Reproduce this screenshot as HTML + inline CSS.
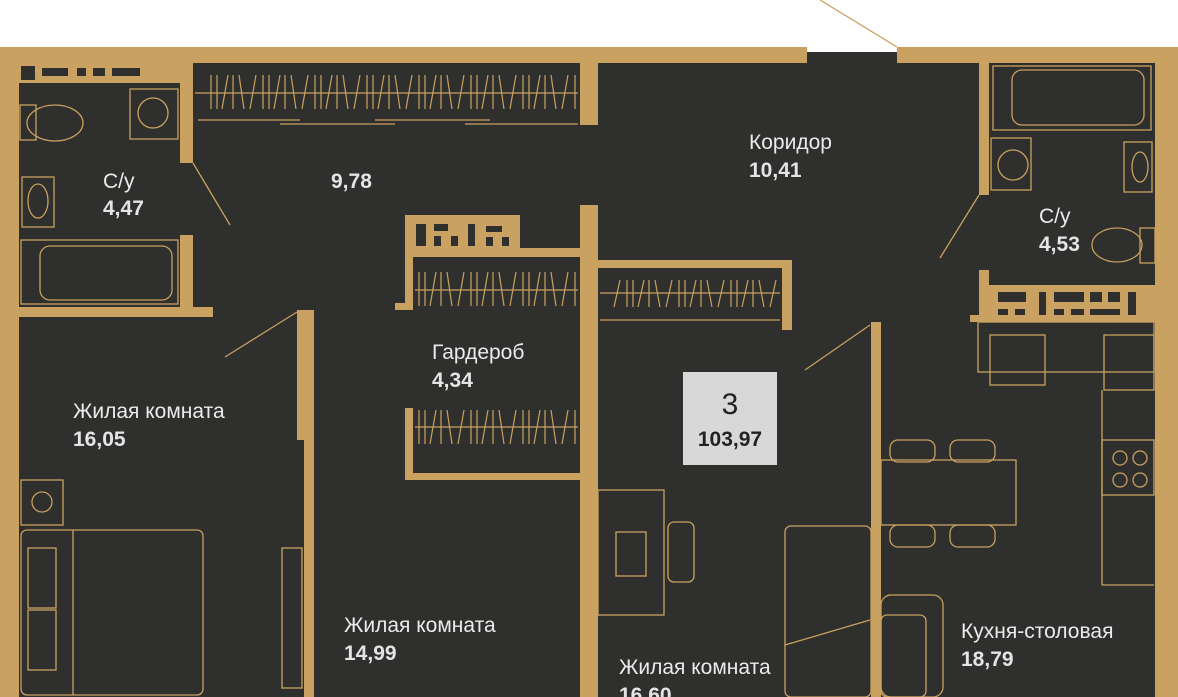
<!DOCTYPE html>
<html><head><meta charset="utf-8"><style>
html,body{margin:0;padding:0;background:#fff;}
svg{display:block;}
text{font-family:"Liberation Sans",sans-serif;fill:#ebebeb;font-size:21px;}
.n{font-size:21px;font-weight:bold;fill:#e4e4e4;}
</style></head><body>
<svg width="1178" height="697" viewBox="0 0 1178 697" xmlns="http://www.w3.org/2000/svg">
<defs>
<g id="tk" stroke="#c9a160" stroke-width="1.2">
<line x1="3" y1="0" x2="3" y2="34"/><line x1="9" y1="0" x2="9" y2="34"/><line x1="14" y1="34" x2="20" y2="0"/><line x1="25" y1="0" x2="25" y2="34"/><line x1="31" y1="0" x2="36" y2="34"/><line x1="42" y1="34" x2="48" y2="0"/>
</g>
<pattern id="h1" width="52" height="400" patternUnits="userSpaceOnUse" patternTransform="translate(0,75)"><use href="#tk"/></pattern>
<pattern id="h2" width="52" height="400" patternUnits="userSpaceOnUse" patternTransform="translate(0,272)"><use href="#tk"/></pattern>
<pattern id="h3" width="52" height="400" patternUnits="userSpaceOnUse" patternTransform="translate(0,410)"><use href="#tk"/></pattern>
<pattern id="h4" width="52" height="400" patternUnits="userSpaceOnUse" patternTransform="translate(0,280) scale(1,0.8)"><use href="#tk"/></pattern>
</defs>
<rect x="0" y="0" width="1178" height="697" fill="#fff"/>
<rect x="0" y="47" width="1178" height="650" fill="#2f2f2d"/>
<rect x="807" y="47" width="90" height="5" fill="#fff"/>
<rect x="208" y="75" width="368" height="34" fill="url(#h1)"/>
<rect x="418" y="272" width="158" height="34" fill="url(#h2)"/>
<rect x="418" y="410" width="158" height="34" fill="url(#h3)"/>
<rect x="610" y="280" width="168" height="27" fill="url(#h4)"/>
<g fill="#c9a160">
<rect x="0" y="47" width="807" height="16"/>
<rect x="897" y="47" width="281" height="16"/>
<rect x="0" y="47" width="19" height="650"/>
<rect x="1155" y="47" width="23" height="650"/>
<rect x="19" y="63" width="161" height="20"/>
<rect x="180" y="63" width="13" height="100"/>
<rect x="180" y="235" width="13" height="72"/>
<rect x="19" y="307" width="194" height="10"/>
<rect x="580" y="63" width="18" height="62"/>
<rect x="580" y="205" width="18" height="492"/>
<rect x="405" y="215" width="115" height="35"/>
<rect x="405" y="248" width="175" height="9"/>
<rect x="405" y="250" width="8" height="60"/>
<rect x="395" y="303" width="18" height="7"/>
<rect x="405" y="408" width="8" height="72"/>
<rect x="405" y="473" width="175" height="7"/>
<rect x="297" y="310" width="17" height="130"/>
<rect x="304" y="440" width="10" height="257"/>
<rect x="598" y="260" width="194" height="8"/>
<rect x="782" y="260" width="10" height="70"/>
<rect x="979" y="63" width="10" height="132"/>
<rect x="979" y="270" width="10" height="30"/>
<rect x="979" y="285" width="176" height="37"/>
<rect x="970" y="315" width="185" height="7"/>
<rect x="871" y="322" width="10" height="375"/>
</g>
<g fill="#2f2f2d">
<rect x="21" y="66" width="14" height="14"/><rect x="42" y="68" width="26" height="8"/><rect x="77" y="68" width="9" height="8"/><rect x="93" y="68" width="12" height="8"/><rect x="112" y="68" width="28" height="8"/>
<rect x="416" y="224" width="10" height="22"/><rect x="434" y="224" width="14" height="7"/><rect x="434" y="236" width="7" height="10"/><rect x="451" y="236" width="7" height="10"/><rect x="468" y="224" width="7" height="22"/><rect x="486" y="226" width="16" height="6"/><rect x="486" y="237" width="7" height="9"/><rect x="502" y="237" width="7" height="9"/>
<rect x="998" y="292" width="28" height="10"/><rect x="998" y="309" width="10" height="6"/><rect x="1015" y="309" width="10" height="6"/><rect x="1039" y="292" width="7" height="23"/><rect x="1054" y="292" width="30" height="10"/><rect x="1054" y="309" width="10" height="6"/><rect x="1071" y="309" width="13" height="6"/><rect x="1090" y="292" width="12" height="10"/><rect x="1090" y="309" width="30" height="6"/><rect x="1108" y="292" width="12" height="10"/><rect x="1128" y="292" width="8" height="23"/>
</g>
<g stroke="#c9a160" stroke-width="1.3" fill="none">
<line x1="897" y1="47" x2="820" y2="0"/>
<line x1="193" y1="163" x2="230" y2="225"/>
<line x1="225" y1="357" x2="297" y2="312"/>
<line x1="940" y1="258" x2="979" y2="195"/>
<line x1="805" y1="370" x2="870" y2="325"/>
<line x1="195" y1="93" x2="578" y2="93"/>
<line x1="198" y1="120" x2="300" y2="120"/><line x1="280" y1="124" x2="395" y2="124"/><line x1="375" y1="120" x2="490" y2="120"/><line x1="465" y1="124" x2="578" y2="124"/>
<line x1="415" y1="290" x2="578" y2="290"/>
<line x1="415" y1="427" x2="578" y2="427"/>
<line x1="600" y1="293" x2="780" y2="293"/>
<line x1="600" y1="320" x2="780" y2="320"/>
<rect x="130" y="89" width="48" height="50"/><circle cx="153" cy="113" r="15"/>
<rect x="20" y="105" width="16" height="35"/><ellipse cx="55" cy="123" rx="28" ry="18"/>
<rect x="22" y="177" width="32" height="50"/><ellipse cx="38" cy="201" rx="10" ry="17"/>
<rect x="21" y="240" width="157" height="64"/><rect x="40" y="246" width="132" height="54" rx="10"/>
<rect x="993" y="66" width="158" height="64"/><rect x="1012" y="70" width="132" height="55" rx="10"/>
<rect x="991" y="138" width="40" height="52"/><circle cx="1013" cy="165" r="15"/>
<rect x="1124" y="142" width="28" height="50"/><ellipse cx="1140" cy="167" rx="8" ry="15"/>
<ellipse cx="1117" cy="245" rx="25" ry="17"/><rect x="1140" y="228" width="15" height="35"/>
<rect x="21" y="480" width="42" height="45"/><circle cx="42" cy="502" r="10"/>
<rect x="21" y="530" width="182" height="165" rx="6"/><line x1="73" y1="530" x2="73" y2="695"/>
<rect x="28" y="548" width="28" height="60"/><rect x="28" y="610" width="28" height="60"/>
<rect x="282" y="548" width="20" height="140"/>
<rect x="598" y="490" width="66" height="125"/>
<rect x="616" y="532" width="30" height="44"/>
<rect x="668" y="522" width="26" height="60" rx="6"/>
<rect x="785" y="526" width="86" height="171" rx="6"/>
<line x1="785" y1="645" x2="870" y2="620"/>
<rect x="978" y="322" width="176" height="50"/>
<rect x="990" y="335" width="55" height="50"/>
<rect x="1104" y="335" width="50" height="55"/>
<rect x="1102" y="440" width="52" height="55"/>
<circle cx="1120" cy="458" r="7"/><circle cx="1140" cy="458" r="7"/><circle cx="1120" cy="480" r="7"/><circle cx="1140" cy="480" r="7"/>
<line x1="1102" y1="390" x2="1102" y2="585"/><line x1="1102" y1="585" x2="1154" y2="585"/>
<rect x="881" y="460" width="135" height="65"/>
<rect x="890" y="440" width="45" height="22" rx="8"/><rect x="950" y="440" width="45" height="22" rx="8"/>
<rect x="890" y="525" width="45" height="22" rx="8"/><rect x="950" y="525" width="45" height="22" rx="8"/>
<rect x="881" y="595" width="62" height="102" rx="10"/><rect x="881" y="615" width="45" height="82" rx="6"/>
</g>
<text x="103" y="188">С/у</text><text class="n" x="103" y="215">4,47</text>
<text class="n" x="331" y="188">9,78</text>
<text x="749" y="149">Коридор</text><text class="n" x="749" y="177">10,41</text>
<text x="1039" y="223">С/у</text><text class="n" x="1039" y="251">4,53</text>
<text x="432" y="359">Гардероб</text><text class="n" x="432" y="387">4,34</text>
<text x="73" y="418">Жилая комната</text><text class="n" x="73" y="446">16,05</text>
<text x="344" y="632">Жилая комната</text><text class="n" x="344" y="660">14,99</text>
<text x="619" y="674">Жилая комната</text><text class="n" x="619" y="702">16,60</text>
<text x="961" y="638">Кухня-столовая</text><text class="n" x="961" y="666">18,79</text>
<rect x="683" y="372" width="94" height="93" fill="#d8d8d8"/>
<text x="730" y="414" text-anchor="middle" style="fill:#222;font-size:30px">3</text>
<text x="730" y="446" text-anchor="middle" style="fill:#222;font-size:21px;font-weight:bold">103,97</text>
</svg>
</body></html>
